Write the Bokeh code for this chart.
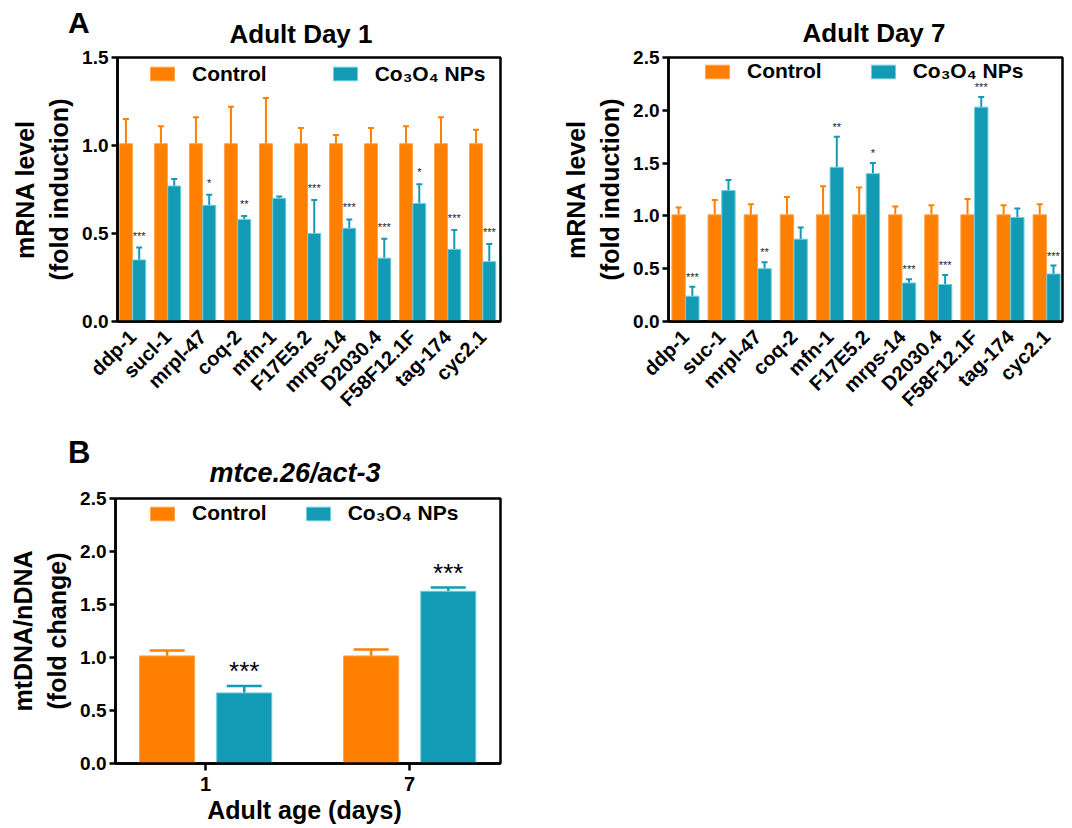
import math
import numpy as np
from bokeh.plotting import figure
from bokeh.models import (Range1d, FixedTicker, ColumnDataSource, Whisker, TeeHead,
                          Legend, LegendItem, NumeralTickFormatter, Div)
from bokeh.layouts import column, row
from bokeh.embed import file_html
from bokeh.resources import INLINE
from bokeh.core.properties import value

# ---------------- data ----------------
genes_d1 = ["ddp-1", "sucl-1", "mrpl-47", "coq-2", "mfn-1", "F17E5.2", "mrps-14",
            "D2030.4", "F58F12.1F", "tag-174", "cyc2.1"]
genes_d7 = ["ddp-1", "suc-1", "mrpl-47", "coq-2", "mfn-1", "F17E5.2", "mrps-14",
            "D2030.4", "F58F12.1F", "tag-174", "cyc2.1"]

ctrl_d1 = [1.01, 1.01, 1.01, 1.01, 1.01, 1.01, 1.01, 1.01, 1.01, 1.01, 1.01]
ctrl_d1_up = [1.15, 1.11, 1.16, 1.22, 1.27, 1.10, 1.06, 1.10, 1.11, 1.16, 1.09]
co_d1 = [0.35, 0.77, 0.66, 0.58, 0.70, 0.50, 0.53, 0.36, 0.67, 0.41, 0.34]
co_d1_up = [0.42, 0.81, 0.72, 0.60, 0.71, 0.69, 0.58, 0.47, 0.78, 0.52, 0.44]
sig_d1 = ["***", "", "*", "**", "", "***", "***", "***", "*", "***", "***"]

ctrl_d7 = [1.01, 1.01, 1.01, 1.01, 1.01, 1.01, 1.01, 1.01, 1.01, 1.01, 1.01]
ctrl_d7_up = [1.08, 1.15, 1.11, 1.18, 1.28, 1.27, 1.09, 1.10, 1.16, 1.10, 1.11]
co_d7 = [0.24, 1.24, 0.50, 0.78, 1.46, 1.40, 0.365, 0.35, 2.03, 0.985, 0.45]
co_d7_up = [0.33, 1.34, 0.56, 0.89, 1.75, 1.50, 0.40, 0.44, 2.125, 1.07, 0.53]
sig_d7 = ["***", "", "**", "", "**", "*", "***", "***", "***", "", "***"]

days = ["1", "7"]
ctrl_b = [1.015, 1.015]
ctrl_b_up = [1.066, 1.075]
co_b = [0.666, 1.625]
co_b_up = [0.73, 1.66]
sig_b = ["***", "***"]

titles_a = ["Adult Day 1", "Adult Day 7"]
title_b = "mtce.26/act-3"
panel_letters = ["A", "B"]

ORANGE = "#FF7F00"
ORANGE_EDGE = "#FFA34D"
TEAL = "#139AB4"
TEAL_EDGE = "#6CCFDE"
FONT = "Liberation Sans"
CO_LABEL = "Co\u2083O\u2084 NPs"


def span(txt, left, baseline, size, center=False, italic=False):
    top = baseline - 0.8465 * size
    tr = "transform:translateX(-50%);" if center else ""
    it = "font-style:italic;" if italic else ""
    return (f'<span style="position:absolute;left:{left}px;top:{top:.1f}px;'
            f'font-size:{size}px;line-height:1;white-space:nowrap;{tr}{it}">{txt}</span>')


def strip(width, height, spans):
    html = (f'<div style="position:relative;width:{width}px;height:{height}px;'
            f"font-family:'{FONT}';font-weight:bold;color:black;overflow:visible\">"
            + "".join(spans) + "</div>")
    return Div(text=html, width=width, height=height, margin=0)


def style_common(p, ylabel):
    p.xgrid.visible = False
    p.ygrid.visible = False
    p.outline_line_color = "black"
    p.outline_line_width = 2.5
    p.outline_line_alpha = 1.0
    for ax in (p.xaxis[0], p.yaxis[0]):
        ax.axis_line_width = 2.5
        ax.axis_line_color = "black"
        ax.minor_tick_line_color = None
        ax.major_label_text_font = FONT
        ax.major_label_text_font_style = "bold"
        ax.major_label_text_color = "black"
        ax.axis_label_text_font = FONT
        ax.axis_label_text_font_style = "bold"
        ax.axis_label_text_color = "black"
    p.yaxis.major_tick_in = 0
    p.yaxis.major_tick_out = 6
    p.yaxis.major_tick_line_width = 2.5
    p.yaxis.major_label_text_font_size = "19px"
    p.yaxis.major_label_standoff = 3
    p.yaxis.formatter = NumeralTickFormatter(format="0.0")
    p.yaxis.axis_label = ylabel
    p.yaxis.axis_label_text_font_size = "25px"
    p.yaxis.axis_label_standoff = 6


def add_legend(p, r1, r2, x_off, y_from_bottom, spacing, font_size="21px"):
    leg = Legend(items=[LegendItem(label="Control", renderers=[r1]),
                        LegendItem(label=CO_LABEL, renderers=[r2])],
                 orientation="horizontal", location=(x_off, y_from_bottom))
    leg.border_line_color = None
    leg.background_fill_alpha = 0
    leg.label_text_font = FONT
    leg.label_text_font_style = "bold"
    leg.label_text_font_size = font_size
    leg.label_text_color = "black"
    leg.glyph_width = 30
    leg.glyph_height = 17
    leg.label_height = 17
    leg.label_standoff = 15
    leg.spacing = spacing
    leg.padding = 0
    leg.margin = 0
    p.add_layout(leg)


def panel_a(genes, ctrl, ctrl_up, co, co_up, sig, ymax, yticks, W, H,
            bl, br, bt, bb, x_lo, x_hi, leg_x, leg_center, leg_spacing, star_off):
    p = figure(width=W, height=H, x_range=Range1d(x_lo, x_hi), y_range=Range1d(0, ymax),
               output_backend="svg", toolbar_location=None,
               min_border_left=bl, min_border_right=br, min_border_top=bt, min_border_bottom=bb)
    style_common(p, "mRNA level\n(fold induction)")
    idx = np.arange(len(genes))
    src = ColumnDataSource(dict(xc=idx - 0.19, xt=idx + 0.19, ctrl=ctrl, ctrl_up=ctrl_up,
                                co=co, co_up=co_up, sig=sig))
    r1 = p.vbar(x="xc", top="ctrl", width=0.37, bottom=0, source=src,
                fill_color=ORANGE, line_color=ORANGE_EDGE, line_width=1)
    r2 = p.vbar(x="xt", top="co", width=0.37, bottom=0, source=src,
                fill_color=TEAL, line_color=TEAL_EDGE, line_width=1)
    p.add_layout(Whisker(source=src, base="xc", lower="ctrl", upper="ctrl_up",
                         line_color=ORANGE, line_width=2, lower_head=None,
                         upper_head=TeeHead(size=6, line_color=ORANGE, line_width=2)))
    p.add_layout(Whisker(source=src, base="xt", lower="co", upper="co_up",
                         line_color=TEAL, line_width=2, lower_head=None,
                         upper_head=TeeHead(size=6, line_color=TEAL, line_width=2)))
    p.text(x="xt", y="co_up", text="sig", source=src, text_align="center",
           text_baseline="alphabetic", y_offset=star_off, text_font=value(FONT),
           text_font_size="11px", text_color="#222222")
    p.xaxis.ticker = FixedTicker(ticks=list(idx))
    p.xaxis.major_label_overrides = {int(i): g for i, g in zip(idx, genes)}
    p.xaxis.major_label_orientation = math.pi / 4
    p.xaxis.major_tick_line_color = None
    p.xaxis.major_label_text_font_size = "20px"
    p.xaxis.major_label_standoff = 6
    p.yaxis.ticker = FixedTicker(ticks=yticks)
    frame_h = H - bt - bb
    add_legend(p, r1, r2, leg_x, frame_h - leg_center - 12, leg_spacing)
    return p


# ---- top strip: panel letter A and the two titles ----
s1 = strip(1060, 47, [span(panel_letters[0], 68, 33, 30),
                      span(titles_a[0], 301, 43, 26, center=True),
                      span(titles_a[1], 874, 42, 26, center=True)])

# Day 1 panel: frame x 117..500, y 57..321 (page)
pA1 = panel_a(genes_d1, ctrl_d1, ctrl_d1_up, co_d1, co_d1_up, sig_d1,
              1.5, [0, 0.5, 1.0, 1.5], 540, 377, 117, 40, 10, 103, -0.43, 10.51,
              30, 16.5, 63, -12)
# Day 7 panel: frame x 668..1062 (row aligns its top/bottom with Day 1)
pA7 = panel_a(genes_d7, ctrl_d7, ctrl_d7_up, co_d7, co_d7_up, sig_d7,
              2.5, [0, 0.5, 1.0, 1.5, 2.0, 2.5], 530, 377, 128, 8, 10, 103, -0.47, 10.44,
              34, 14, 46, -10)

# ---- second strip: panel letter B and title ----
s2 = strip(540, 60, [span(panel_letters[1], 68, 39, 31),
                     span(title_b, 295, 59, 27, center=True, italic=True)])

# Panel B: frame x 115..500, y 498..763
pB = figure(width=540, height=342, x_range=Range1d(-0.441, 1.446), y_range=Range1d(0, 2.5),
            output_backend="svg", toolbar_location=None,
            min_border_left=115, min_border_right=40, min_border_top=14, min_border_bottom=63)
style_common(pB, "mtDNA/nDNA\n(fold change)")
bidx = np.arange(len(days))
srcB = ColumnDataSource(dict(xc=bidx - 0.188, xt=bidx + 0.19, ctrl=ctrl_b, ctrl_up=ctrl_b_up,
                             co=co_b, co_up=co_b_up, sig=sig_b))
rb1 = pB.vbar(x="xc", top="ctrl", width=0.27, bottom=0, source=srcB,
              fill_color=ORANGE, line_color=ORANGE_EDGE, line_width=1)
rb2 = pB.vbar(x="xt", top="co", width=0.27, bottom=0, source=srcB,
              fill_color=TEAL, line_color=TEAL_EDGE, line_width=1)
pB.add_layout(Whisker(source=srcB, base="xc", lower="ctrl", upper="ctrl_up",
                      line_color=ORANGE, line_width=2.5, lower_head=None,
                      upper_head=TeeHead(size=35, line_color=ORANGE, line_width=2.5)))
pB.add_layout(Whisker(source=srcB, base="xt", lower="co", upper="co_up",
                      line_color=TEAL, line_width=2.5, lower_head=None,
                      upper_head=TeeHead(size=35, line_color=TEAL, line_width=2.5)))
pB.text(x="xt", y="co_up", text="sig", source=srcB, text_align="center",
        text_baseline="alphabetic", y_offset=-15, text_font=value(FONT),
        text_font_size="26px", text_color="black")
pB.xaxis.ticker = FixedTicker(ticks=list(bidx))
pB.xaxis.major_label_overrides = {int(i): d for i, d in zip(bidx, days)}
pB.xaxis.major_tick_in = 0
pB.xaxis.major_tick_out = 7
pB.xaxis.major_tick_line_width = 2.5
pB.xaxis.major_label_text_font_size = "20px"
pB.xaxis.major_label_standoff = 6
pB.xaxis.axis_label = "Adult age  (days)"
pB.xaxis.axis_label_text_font_size = "25px"
pB.xaxis.axis_label_standoff = 2
pB.yaxis.ticker = FixedTicker(ticks=[0, 0.5, 1.0, 1.5, 2.0, 2.5])
add_legend(pB, rb1, rb2, 32, 265 - 15 - 12, 36)

layout = column(s1, row(pA1, pA7), s2, pB)
open("out.html", "w").write(file_html(layout, INLINE))
